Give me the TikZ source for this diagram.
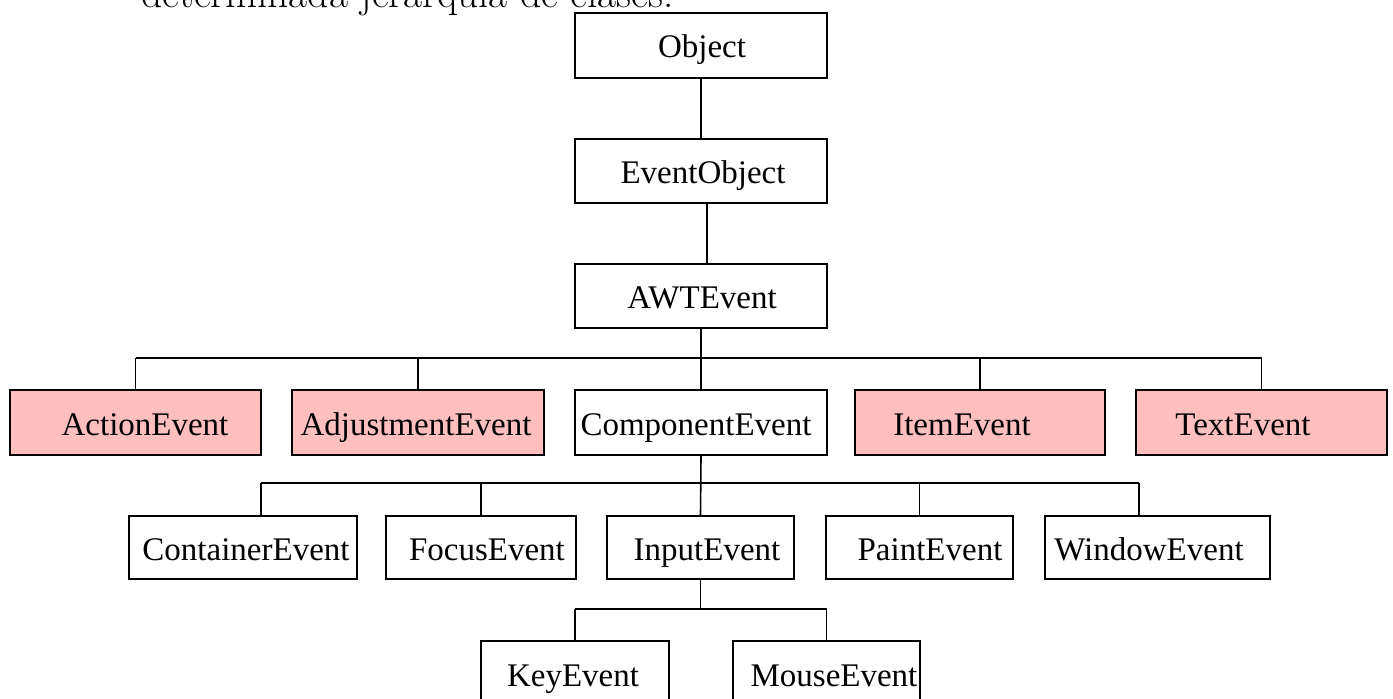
\documentclass[tikz,border=0pt]{standalone}
\usepackage{fontspec}
\newfontfamily\clsfont{Liberation Serif}
\definecolor{evpink}{RGB}{255,191,191}
\begin{document}
\begin{tikzpicture}[x=0.5pt,y=-0.5pt,
  box/.style={draw, line width=0.8pt, inner sep=0pt},
  pinkbox/.style={box, fill=evpink},
  lbl/.style={anchor=base, inner sep=0pt, font=\clsfont\fontsize{16.5}{18}\selectfont},
  conn/.style={line width=0.8pt}]
\clip (0,0) rectangle (1393,698);
% partially visible sentence at the top
\node[anchor=base west, inner sep=0pt, font=\fontsize{20.7}{24}\selectfont] (intro) at (141,7) {determinada jerarqu\'ia de clases.};

% boxes
\node[box, minimum width=126pt, minimum height=32.5pt] (obj) at (701,45.5) {};
\node[box, minimum width=126pt, minimum height=32pt] (eo) at (701,171) {};
\node[box, minimum width=126pt, minimum height=32pt] (awt) at (701,296) {};

\node[pinkbox, minimum width=125.5pt, minimum height=32.5pt] (act) at (135.5,422.5) {};
\node[pinkbox, minimum width=126pt, minimum height=32.5pt] (adj) at (418,422.5) {};
\node[box, minimum width=126pt, minimum height=32.5pt] (comp) at (701,422.5) {};
\node[pinkbox, minimum width=125pt, minimum height=32.5pt] (item) at (980,422.5) {};
\node[pinkbox, minimum width=125.5pt, minimum height=32.5pt] (text) at (1261.5,422.5) {};

\node[box, minimum width=114pt, minimum height=31.5pt] (cont) at (243,547.5) {};
\node[box, minimum width=95pt, minimum height=31.5pt] (focus) at (481,547.5) {};
\node[box, minimum width=93.5pt, minimum height=31.5pt] (inp) at (700.5,547.5) {};
\node[box, minimum width=93.5pt, minimum height=31.5pt] (paint) at (919.5,547.5) {};
\node[box, minimum width=112.5pt, minimum height=31.5pt] (win) at (1157.5,547.5) {};

\node[box, minimum width=94pt, minimum height=32.5pt] (key) at (575,673.5) {};
\node[box, minimum width=93.5pt, minimum height=32.5pt] (mouse) at (826.5,673.5) {};

% labels
\node[lbl] (tobj) at (702,57.5) {Object};
\node[lbl] (teo) at (703,183) {EventObject};
\node[lbl] (tawt) at (702,308) {AWTEvent};
\node[lbl] (tact) at (145,435) {ActionEvent};
\node[lbl] (tadj) at (416,435) {AdjustmentEvent};
\node[lbl] (tcomp) at (696,435) {ComponentEvent};
\node[lbl] (titem) at (962,435) {ItemEvent};
\node[lbl] (ttext) at (1243,435) {TextEvent};
\node[lbl] (tcont) at (246,560) {ContainerEvent};
\node[lbl] (tfocus) at (487,560) {FocusEvent};
\node[lbl] (tinp) at (707,560) {InputEvent};
\node[lbl] (tpaint) at (930,560) {PaintEvent};
\node[lbl] (twin) at (1149,560) {WindowEvent};
\node[lbl] (tkey) at (573,686) {KeyEvent};
\node[lbl] (tmouse) at (834,686) {MouseEvent};

% bus coordinates
\coordinate (b1l) at (135.5,358);
\coordinate (b1r) at (1261.5,358);
\coordinate (b2l) at (261,483);
\coordinate (b2r) at (1139,483);
\coordinate (b3l) at (575,609);
\coordinate (b3r) at (826.5,609);

% connectors
\draw[conn] (obj.south) -- (eo.north);
\draw[conn] ([xshift=3pt]eo.south) -- ([xshift=3pt]awt.north);
\draw[conn] (awt.south) -- (comp.north);
\draw[conn] (b1l) -- (b1r);
\draw[conn] (b1l) -- (act.north);
\draw[conn] (adj.north) -- (adj.north |- b1l);
\draw[conn] (item.north) -- (item.north |- b1l);
\draw[conn] (b1r) -- (text.north);

\draw[conn] (comp.south) -- (inp.north);
\draw[conn] (b2l) -- (b2r);
\draw[conn] (b2l) -- (b2l |- cont.north);
\draw[conn] (focus.north) -- (focus.north |- b2l);
\draw[conn] (paint.north) -- (paint.north |- b2l);
\draw[conn] (b2r) -- (b2r |- win.north);

\draw[conn] (inp.south) -- (inp.south |- b3l);
\draw[conn] (b3l) -- (b3r);
\draw[conn] (b3l) -- (key.north);
\draw[conn] (b3r) -- (mouse.north);
\end{tikzpicture}
\end{document}
